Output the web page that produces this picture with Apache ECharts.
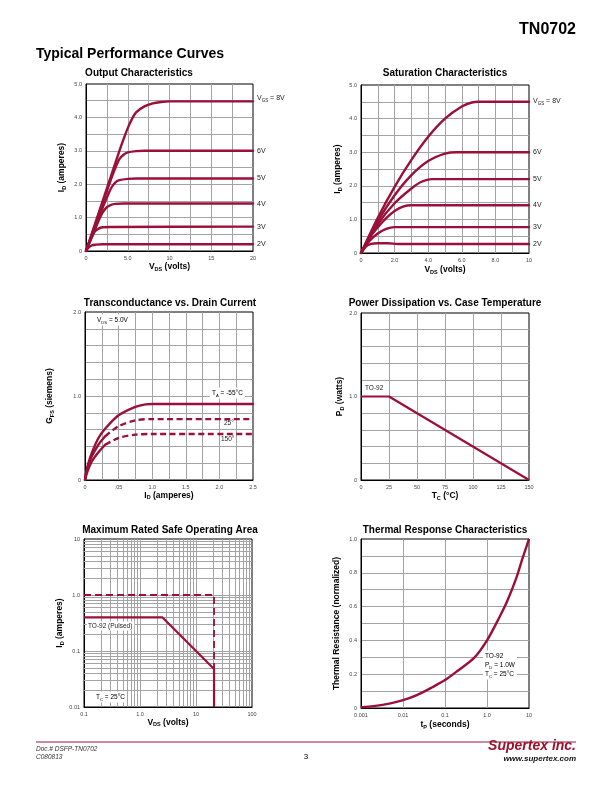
<!DOCTYPE html>
<html><head><meta charset="utf-8">
<script src="https://cdn.jsdelivr.net/npm/echarts@6/dist/echarts.min.js"></script>
<style>html,body{margin:0;padding:0;background:#fff}#c{width:612px;height:792px}</style>
</head><body><div id="c"></div>
<script>
// ---------------- DATA ----------------
// Output Characteristics: [V_DS (V), I_D (A)] for each V_GS
const outVgs2 = [[0,0],[0.3,0.1],[0.7,0.17],[1.2,0.19],[2,0.2],[20,0.2]];
const outVgs3 = [[0,0],[0.5,0.3],[1,0.57],[1.5,0.67],[2,0.71],[3,0.72],[20,0.73]];
const outVgs4 = [[0,0],[1,0.6],[1.5,0.9],[2,1.16],[2.5,1.31],[3,1.38],[3.5,1.41],[4.5,1.42],[20,1.42]];
const outVgs5 = [[0,0],[1,0.66],[2,1.3],[2.5,1.6],[3,1.88],[3.5,2.05],[4,2.12],[5,2.16],[6,2.17],[20,2.17]];
const outVgs6 = [[0,0],[1,0.72],[2,1.44],[3,2.15],[3.5,2.48],[4,2.75],[4.5,2.88],[5,2.95],[6,2.99],[7,3.0],[20,3.0]];
const outVgs8 = [[0,0],[1,0.75],[2,1.5],[3,2.25],[4,3.0],[4.5,3.35],[5,3.68],[5.5,3.95],[6,4.15],[7,4.33],[8,4.42],[9,4.46],[10,4.48],[20,4.48]];
const outLabels = ['2V','3V','4V','5V','6V','{n|V}{s|GS}{n| = 8V}'];

// Saturation Characteristics
const satVgs2 = [[0,0],[0.3,0.2],[0.6,0.27],[1.0,0.29],[1.6,0.29],[2.2,0.27],[10,0.27]];
const satVgs3 = [[0,0],[0.5,0.36],[1,0.58],[1.5,0.72],[2,0.77],[10,0.77]];
const satVgs4 = [[0,0],[0.5,0.45],[1,0.77],[1.5,1.04],[2,1.25],[2.5,1.38],[3,1.42],[10,1.42]];
const satVgs5 = [[0,0],[1,0.86],[2,1.48],[3,1.92],[3.6,2.12],[4.2,2.2],[10,2.2]];
const satVgs6 = [[0,0],[1,0.95],[2,1.72],[3,2.32],[4,2.74],[5,2.96],[5.7,3.0],[10,3.0]];
const satVgs8 = [[0,0],[1,1.05],[2,1.97],[3,2.77],[4,3.46],[5,4.0],[6,4.36],[6.6,4.48],[7,4.5],[10,4.5]];
const satLabels = ['2V','3V','4V','5V','6V','{n|V}{s|GS}{n| = 8V}'];

// Transconductance vs Drain Current: [I_D, G_FS]
const gfsM55 = [[0,0],[0.02,0.1],[0.05,0.2],[0.1,0.32],[0.2,0.5],[0.3,0.61],[0.5,0.77],[0.75,0.87],[0.9,0.9],[1.0,0.905],[2.5,0.905]];
const gfs25  = [[0,0],[0.02,0.08],[0.05,0.17],[0.1,0.28],[0.2,0.42],[0.3,0.52],[0.5,0.64],[0.75,0.71],[1.0,0.725],[2.5,0.725]];
const gfs150 = [[0,0],[0.02,0.06],[0.05,0.13],[0.1,0.22],[0.2,0.33],[0.3,0.42],[0.5,0.5],[0.75,0.54],[1.0,0.547],[2.5,0.547]];
const gfsDashFrom = 0.3;

// Power dissipation vs case temperature
const pdTemp = [0,25,150];
const pdWatts = [1.0,1.0,0];

// Safe operating area
const soaDC = [[0.1,0.4],[2.5,0.4],[21,0.0476],[21,0.01]];
const soaPulsed = [[0.1,1.0],[21,1.0],[21,0.01]];
const soaMinorX = [0.2,0.3,0.4,0.5,0.6,0.7,0.8,0.9,2,3,4,5,6,7,8,9,20,30,40,50,60,70,80,90];
const soaMinorY = [0.02,0.03,0.04,0.05,0.06,0.07,0.08,0.09,0.2,0.3,0.4,0.5,0.6,0.7,0.8,0.9,2,3,4,5,6,7,8,9];

// Thermal response
const thermT = [0.001,0.002,0.005,0.01,0.02,0.05,0.1,0.2,0.5,1,2,3,5,7,10];
const thermR = [0.004,0.011,0.027,0.046,0.073,0.123,0.165,0.22,0.298,0.40,0.54,0.63,0.77,0.885,1.0];

// Tick labels
const outXVals = [0,5,10,15,20], outXText = ['0','5.0','10','15','20'];
const ampVals = [0,1,2,3,4,5], ampText = ['0','1.0','2.0','3.0','4.0','5.0'];
const satXVals = [0,2,4,6,8,10], satXText = ['0','2.0','4.0','6.0','8.0','10'];
const gfsXVals = [0,0.5,1,1.5,2,2.5], gfsXText = ['0','.05','1.0','1.5','2.0','2.5'];
const twoVals = [0,1,2], twoText = ['0','1.0','2.0'];
const pdXVals = [0,25,50,75,100,125,150], pdXText = ['0','25','50','75','100','125','150'];
const soaXVals = [0.1,1,10,100], soaXText = ['0.1','1.0','10','100'];
const soaYVals = [0.01,0.1,1,10], soaYText = ['0.01','0.1','1.0','10'];
const thXVals = [0.001,0.01,0.1,1,10], thXText = ['0.001','0.01','0.1','1.0','10'];
const thYVals = [0,0.2,0.4,0.6,0.8,1.0], thYText = ['0','0.2','0.4','0.6','0.8','1.0'];

// ---------------- STYLE ----------------
const RED = '#9b1038';
const FONT = "'Liberation Sans', Arial, Helvetica, sans-serif";
const GRIDC = '#a3a3a3';

function lin(vals, texts){ return v => { for (let i=0;i<vals.length;i++) if (Math.abs(v-vals[i])<1e-6) return texts[i]; return ''; }; }
function logf(vals, texts){ return v => { for (let i=0;i<vals.length;i++) if (Math.abs(Math.log10(v)-Math.log10(vals[i]))<1e-6) return texts[i]; return ''; }; }

const nameRich = {
  n:{fontSize:8.5, fontWeight:'bold', fontFamily:FONT, color:'#000', lineHeight:11},
  s:{fontSize:5.5, fontWeight:'bold', fontFamily:FONT, color:'#000', lineHeight:5, verticalAlign:'bottom'}
};
const smallRich = {
  n:{fontSize:7, fontFamily:FONT, color:'#222', lineHeight:10},
  s:{fontSize:4.5, fontFamily:FONT, color:'#222', lineHeight:4, verticalAlign:'bottom'}
};

function axis(kind, gi, o){
  const a = {
    type: o.log ? 'log' : 'value', gridIndex: gi,
    min: o.min, max: o.max,
    axisLine:{show:true, onZero:false, lineStyle:{color:'#000', width:1}},
    axisTick:{show:false},
    splitLine:{show:true, showMinLine:false, showMaxLine:false, lineStyle:{color:GRIDC, width:1}},
    axisLabel:{fontSize:5.5, color:'#444', fontFamily:FONT, margin:4, formatter:o.fmt, hideOverlap:false, showMinLabel:true, showMaxLabel:true},
    name:o.name, nameLocation:'middle', nameGap:o.gap,
    nameTextStyle:{rich:nameRich, fontFamily:FONT}
  };
  if (o.log) a.logBase = 10; else a.interval = o.interval;
  return a;
}

const grids = [
  {left:86, top:84, width:167, height:167},
  {left:361, top:85, width:168, height:168},
  {left:85, top:312, width:168, height:168},
  {left:361, top:313, width:168, height:167},
  {left:84, top:539, width:168, height:168},
  {left:361, top:539, width:168, height:169}
].map(g => Object.assign(g, {show:true, borderColor:'#000', borderWidth:1, backgroundColor:'transparent', containLabel:false, outerBoundsMode:'none'}));

const xAxes = [
  axis('x',0,{min:0,max:20,interval:2.5,fmt:lin(outXVals,outXText),name:'{n|V}{s|DS}{n| (volts)}',gap:10}),
  axis('x',1,{min:0,max:10,interval:1,fmt:lin(satXVals,satXText),name:'{n|V}{s|DS}{n| (volts)}',gap:11}),
  axis('x',2,{min:0,max:2.5,interval:0.25,fmt:lin(gfsXVals,gfsXText),name:'{n|I}{s|D}{n| (amperes)}',gap:8.5}),
  axis('x',3,{min:0,max:150,interval:25,fmt:lin(pdXVals,pdXText),name:'{n|T}{s|C}{n| (°C)}',gap:10}),
  axis('x',4,{log:true,min:0.1,max:100,fmt:logf(soaXVals,soaXText),name:'{n|V}{s|DS}{n| (volts)}',gap:9}),
  axis('x',5,{log:true,min:0.001,max:10,fmt:logf(thXVals,thXText),name:'{n|t}{s|P}{n| (seconds)}',gap:11})
];
const yAxes = [
  axis('y',0,{min:0,max:5,interval:0.5,fmt:lin(ampVals,ampText),name:'{n|I}{s|D}{n| (amperes)}',gap:19}),
  axis('y',1,{min:0,max:5,interval:0.5,fmt:lin(ampVals,ampText),name:'{n|I}{s|D}{n| (amperes)}',gap:18}),
  axis('y',2,{min:0,max:2,interval:0.2,fmt:lin(twoVals,twoText),name:'{n|G}{s|FS}{n| (siemens)}',gap:30}),
  axis('y',3,{min:0,max:2,interval:0.2,fmt:lin(twoVals,twoText),name:'{n|P}{s|D}{n| (watts)}',gap:16}),
  axis('y',4,{log:true,min:0.01,max:10,fmt:logf(soaYVals,soaYText),name:'{n|I}{s|D}{n| (amperes)}',gap:13}),
  axis('y',5,{min:0,max:1,interval:0.1,fmt:lin(thYVals,thYText),name:'{n|Thermal Resistance (normalized)}',gap:19})
];

function curve(gi, data, o={}){
  return Object.assign({
    type:'line', xAxisIndex:gi, yAxisIndex:gi, data, symbol:'none', showSymbol:false,
    smooth:0.3, silent:true, animation:false, z:4,
    lineStyle:{color:RED, width:2.4, cap:'round', join:'round'}
  }, o);
}
function endMark(pt, text, dy){
  return {symbol:'circle', symbolSize:0, silent:true, animation:false,
    label:{show:true, position:'right', distance:4, offset:[0,dy||0], formatter:text, fontSize:7, color:'#222', fontFamily:FONT, rich:smallRich},
    data:[{coord:pt}]};
}

const series = [];
[outVgs2,outVgs3,outVgs4,outVgs5,outVgs6,outVgs8].forEach((d,i)=>{
  series.push(curve(0,d,{markPoint:endMark(d[d.length-1], outLabels[i], i===5?-3:0)}));
});
[satVgs2,satVgs3,satVgs4,satVgs5,satVgs6,satVgs8].forEach((d,i)=>{
  series.push(curve(1,d,{markPoint:endMark(d[d.length-1], satLabels[i], i===5?-1:0)}));
});
// transconductance
series.push(curve(2,gfsM55));
[gfs25,gfs150].forEach(d=>{
  series.push(curve(2,d.filter(p=>p[0]<=gfsDashFrom)));
  series.push(curve(2,d.filter(p=>p[0]>=gfsDashFrom),{lineStyle:{color:RED,width:2.4,type:[6,3.5]}}));
});
// power dissipation
series.push(curve(3,pdTemp.map((t,i)=>[t,pdWatts[i]]),{smooth:false,lineStyle:{color:RED,width:2.2}}));
// SOA minor grid
series.push({type:'line', xAxisIndex:4, yAxisIndex:4, data:[[0.1,0.01]], symbol:'none', silent:true, animation:false, z:1,
  lineStyle:{opacity:0},
  markLine:{silent:true, animation:false, z:1, symbol:['none','none'], label:{show:false},
    lineStyle:{color:GRIDC, width:1, type:'solid'},
    data: soaMinorX.map(v=>({xAxis:v})).concat(soaMinorY.map(v=>({yAxis:v})))}
});
series.push(curve(4,soaPulsed,{smooth:false,lineStyle:{color:RED,width:1.8,type:[7,4]}}));
series.push(curve(4,soaDC,{smooth:false,lineStyle:{color:RED,width:2.2}}));
// thermal
series.push(curve(5,thermT.map((t,i)=>[t,thermR[i]]),{smooth:0.3,lineStyle:{color:RED,width:2.4}}));

// ---------------- TEXT ----------------
function txt(x,y,text,o={}){
  return {type:'text', x, y, z:o.z??20, silent:true, style:{
    text, fontSize:o.fs??6.5, fontWeight:o.fw??'normal', fontStyle:o.fst??'normal', fontFamily:FONT,
    fill:o.fill??'#000', align:o.align??'left', verticalAlign:'middle',
    backgroundColor:o.bg, padding:o.pad, rich:o.rich, lineHeight:o.lh}};
}
const annRich = {
  n:{fontSize:6.5, fontFamily:FONT, color:'#222', lineHeight:9},
  s:{fontSize:4.2, fontFamily:FONT, color:'#222', lineHeight:4, verticalAlign:'bottom'}
};
const graphic = [
  txt(576,30,'TN0702',{fs:16,fw:'bold',align:'right'}),
  txt(36,54,'Typical Performance Curves',{fs:14,fw:'bold'}),
  txt(139,73,'Output Characteristics',{fs:10,fw:'bold',align:'center'}),
  txt(445,73,'Saturation Characteristics',{fs:10,fw:'bold',align:'center'}),
  txt(170,303,'Transconductance vs. Drain Current',{fs:10,fw:'bold',align:'center'}),
  txt(445,303,'Power Dissipation vs. Case Temperature',{fs:10,fw:'bold',align:'center'}),
  txt(170,530,'Maximum Rated Safe Operating Area',{fs:10,fw:'bold',align:'center'}),
  txt(445,530,'Thermal Response Characteristics',{fs:10,fw:'bold',align:'center'}),
  // annotations
  txt(95,320,'{n|V}{s|DS}{n| = 5.0V}',{rich:annRich,bg:'#fff',pad:[1,2,1,2],z:3}),
  txt(210,393,'{n|T}{s|A}{n| = -55°C}',{rich:annRich,bg:'#fff',pad:[1,2,1,2],z:3}),
  txt(223,423,'25°',{fs:6.5,fill:'#222',bg:'#fff',pad:[0,1,0,1],z:3}),
  txt(220,439,'150°',{fs:6.5,fill:'#222',bg:'#fff',pad:[0,1,0,1],z:3}),
  txt(364,388,'TO-92',{fs:6.5,fill:'#222',bg:'#fff',pad:[0,1,0,1],z:3}),
  txt(87,626,'TO-92 (Pulsed)',{fs:6.5,fill:'#222',bg:'#fff',pad:[1,2,1,1],z:3}),
  txt(94,697,'{n|T}{s|C}{n| = 25°C}',{rich:annRich,bg:'#fff',pad:[1,2,1,2],z:3}),
  txt(483,665,'{n|TO-92}\n{n|P}{s|D}{n| = 1.0W}\n{n|T}{s|C}{n| = 25°C}',{rich:annRich,bg:'#fff',pad:[1,2,1,2],z:3}),
  // footer
  {type:'line', z:20, silent:true, shape:{x1:36,y1:742,x2:576,y2:742}, style:{stroke:'#8c1c3c', lineWidth:1}},
  txt(36,749,'Doc.# DSFP-TN0702',{fs:6.5,fst:'italic',fill:'#333'}),
  txt(36,757,'C080813',{fs:6.5,fst:'italic',fill:'#333'}),
  txt(306,757,'3',{fs:8,align:'center'}),
  txt(576,746,'Supertex inc.',{fs:14,fw:'bold',fst:'italic',fill:'#a0102c',align:'right'}),
  txt(576,759,'www.supertex.com',{fs:8,fw:'bold',fst:'italic',fill:'#111',align:'right'})
];

const chart = echarts.init(document.getElementById('c'), null, {renderer:'canvas', width:612, height:792});
chart.setOption({
  animation:false,
  backgroundColor:'#fff',
  textStyle:{fontFamily:FONT},
  grid:grids, xAxis:xAxes, yAxis:yAxes, series, graphic
});
</script>
</body></html>
